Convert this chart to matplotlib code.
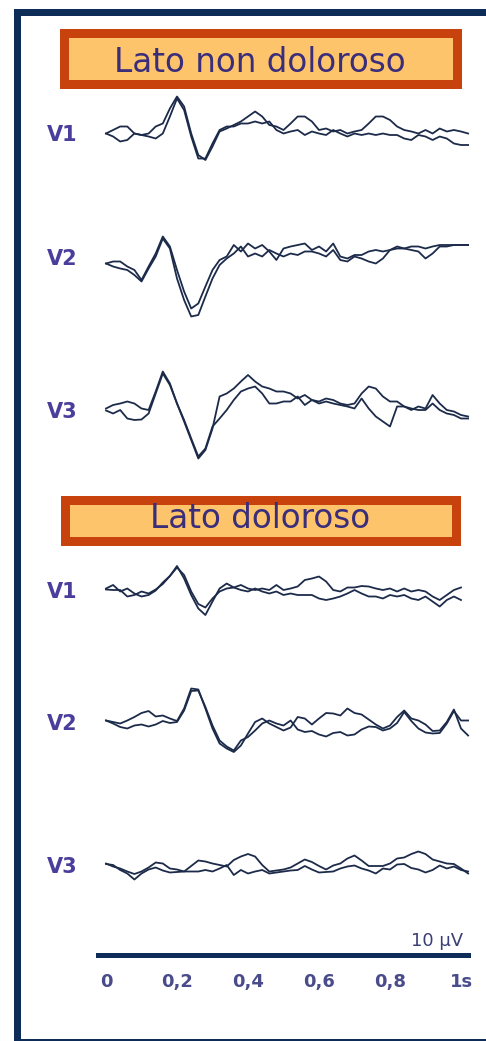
import numpy as np
import matplotlib.pyplot as plt
from matplotlib.patches import Rectangle
from matplotlib.transforms import blended_transform_factory

# sampling grid of the read-off traces (s)
t = np.round(np.arange(0, 1.021, 0.02), 2)

# amplitudes in microvolt, two superimposed recordings per channel
# --- Lato non doloroso ---
nd_v1_a = [-0.1, 0.6, 1.3, 1.3, -0.1, -0.4, -0.1, 1.3, 1.9, 4.9,
           7.3, 5.3, -0.1, -4.4, -5.4, -2.7, 0.3, 0.9, 1.6, 2.3,
           3.3, 4.3, 3.3, 1.6, 1.3, 0.6, 1.9, 3.3, 3.3, 2.3,
           0.6, 0.9, 0.3, 0.6, -0.1, 0.3, 0.6, 1.9, 3.3, 3.3,
           2.6, 1.3, 0.6, 0.3, -0.1, 0.6, -0.1, 0.9, 0.3, 0.6,
           0.3, -0.1]
nd_v1_b = [-0.1, -0.7, -1.7, -1.4, -0.1, -0.4, -0.7, -1.1, -0.1, 3.3,
           6.9, 4.6, -0.7, -5.1, -5.1, -2.1, 0.6, 1.3, 1.3, 1.9,
           1.9, 2.3, 1.9, 2.3, 0.6, -0.1, 0.3, 0.6, -0.4, 0.3,
           -0.1, -0.4, 0.6, -0.1, -0.7, -0.1, -0.4, -0.1, -0.4, -0.1,
           -0.4, -0.4, -1.1, -1.4, -0.4, -0.7, -1.4, -0.7, -1.1, -2.1,
           -2.4, -2.4]
nd_v2_a = [-1.3, -0.9, -0.9, -1.9, -2.6, -4.6, -1.9, 0.7, 4.1, 2.1,
           -2.6, -6.9, -10.3, -9.3, -5.9, -2.6, -0.6, 0.1, 2.4, 1.1,
           2.7, 1.7, 2.4, 1.1, -0.6, 1.7, 2.1, 2.4, 2.7, 1.4,
           2.1, 1.1, 2.7, 0.1, -0.3, 0.4, 0.4, 1.1, 1.4, 1.1,
           1.4, 2.1, 1.7, 2.1, 2.1, 1.7, 2.1, 2.4, 2.4, 2.4,
           2.4, 2.4]
nd_v2_b = [-1.3, -1.9, -2.3, -2.6, -3.6, -4.9, -2.3, 0.1, 3.7, 1.7,
           -4.3, -8.6, -11.9, -11.6, -7.9, -4.3, -1.6, -0.3, 0.7, 2.1,
           0.1, 0.7, 0.1, 1.4, 0.7, 0.1, 0.7, 0.4, 1.1, 1.1,
           0.7, 0.1, 1.4, -0.6, -0.9, 0.1, -0.3, -0.9, -1.3, -0.3,
           1.4, 1.7, 1.7, 1.4, 1.1, -0.3, 0.7, 2.1, 2.1, 2.4,
           2.4, 2.4]
nd_v3_a = [0.3, 1.0, 1.3, 1.7, 1.3, 0.3, 0.0, 3.7, 7.7, 5.3,
           1.3, -2.3, -6.0, -9.7, -8.0, -3.7, 2.7, 3.3, 4.3, 5.7,
           7.0, 5.7, 4.7, 4.3, 3.7, 3.7, 3.3, 2.3, 3.0, 2.0,
           1.7, 2.3, 2.0, 1.3, 1.0, 1.3, 3.3, 4.7, 4.3, 2.7,
           1.7, 1.7, 0.7, 0.0, 0.7, 0.3, 3.0, 1.3, 0.0, -0.3,
           -1.0, -1.3]
nd_v3_b = [-0.1, -0.7, 0.0, -1.7, -2.0, -1.9, -0.7, 3.3, 7.3, 5.0,
           1.3, -2.0, -5.7, -9.3, -7.7, -3.3, -1.7, 0.0, 2.0, 3.7,
           4.3, 4.7, 3.3, 1.3, 1.3, 1.7, 1.7, 2.7, 1.0, 2.0,
           1.3, 1.7, 1.3, 1.0, 0.7, 0.3, 2.3, 0.3, -1.3, -2.3,
           -3.3, 0.7, 0.7, 0.3, 0.0, 0.0, 1.3, 0.0, -0.7, -1.0,
           -1.7, -1.7]
# --- Lato doloroso ---
d_v1_a = [0.3, 1.0, -0.3, 0.3, -0.7, -1.3, -1.0, -0.1, 1.5, 2.8,
          4.8, 2.3, -1.0, -3.7, -5.0, -2.3, 0.3, 1.3, 0.5, 1.0,
          0.3, 0.0, 0.3, 0.0, 1.0, 0.0, 0.3, 0.7, 2.0, 2.3,
          2.7, 1.7, 0.0, -0.3, 0.5, 0.5, 0.8, 0.7, 0.3, 0.0,
          0.3, -0.3, 0.3, -0.3, 0.0, -0.3, -1.3, -2.0, -1.0, 0.0,
          0.5]
d_v1_b = [0.1, 0.0, 0.0, -1.3, -1.0, -0.3, -0.7, 0.1, 1.2, 2.8,
          4.5, 3.0, -0.3, -2.8, -3.5, -1.7, -0.3, 0.3, 0.5, 0.0,
          -0.3, 0.3, -0.3, -0.7, -0.3, -1.0, -0.7, -1.0, -1.0, -1.0,
          -1.7, -2.0, -1.7, -1.3, -0.7, 0.0, -0.7, -1.3, -1.3, -1.7,
          -1.0, -1.3, -1.0, -1.7, -2.0, -1.3, -2.3, -3.3, -2.0, -1.3,
          -2.0]
d_v2_a = [0.3, 0.0, -0.3, 0.3, 1.0, 1.8, 2.2, 1.1, 1.3, 0.7,
          0.2, 2.7, 6.7, 6.5, 2.7, -1.3, -4.3, -5.3, -6.0, -4.7,
          -2.3, 0.0, 0.7, -0.3, -1.0, -1.7, -1.1, 1.0, 0.7, -0.5,
          0.7, 1.8, 1.7, 1.3, 2.7, 1.8, 1.5, 0.5, -0.5, -1.3,
          -0.7, 1.0, 2.3, 0.7, 0.3, -0.5, -1.8, -1.7, 0.0, 2.5,
          -1.3, -2.7]
d_v2_b = [0.3, -0.3, -1.0, -1.3, -0.7, -0.5, -0.9, -0.5, 0.2, -0.2,
          0.0, 2.3, 6.2, 6.3, 3.0, -0.7, -3.7, -4.9, -5.7, -3.7,
          -3.0, -1.7, -0.3, 0.3, -0.3, -0.7, 0.3, -1.5, -2.0, -1.8,
          -2.5, -2.9, -2.2, -2.0, -2.7, -2.5, -1.5, -0.9, -1.0, -1.7,
          -1.3, -0.2, 2.0, 0.2, -1.3, -2.1, -2.3, -2.2, -0.3, 2.2,
          0.3, 0.3]
d_v3_a = [0.3, -0.3, -0.7, -1.3, -1.8, -1.3, -0.5, 0.5, 0.3, -0.7,
          -0.9, -1.3, -0.2, 0.9, 0.7, 0.3, 0.0, -0.3, 1.0, 1.7,
          2.2, 1.7, 0.0, -1.3, -1.1, -0.9, -0.5, 0.3, 1.1, 0.6,
          -0.2, -0.9, -0.1, 0.3, 1.3, 1.9, 0.9, -0.2, -0.2, -0.2,
          0.3, 1.3, 1.5, 2.2, 2.7, 2.2, 1.1, 0.7, 0.3, 0.2,
          -0.7, -1.7]
d_v3_b = [0.2, 0.0, -1.0, -1.7, -2.9, -1.7, -0.9, -0.5, -1.1, -1.5,
          -1.4, -1.3, -1.3, -1.3, -1.0, -1.3, -0.7, 0.0, -2.0, -1.0,
          -1.7, -1.3, -1.0, -1.7, -1.5, -1.3, -1.1, -1.0, -0.2, -0.9,
          -1.5, -1.4, -1.3, -0.7, -0.3, -0.1, -0.7, -1.1, -1.7, -0.7,
          -0.9, 0.1, 0.2, -0.6, -0.9, -1.5, -1.0, -0.1, -0.7, -0.3,
          -1.0, -1.3]

panel_titles = ["Lato non doloroso", "Lato doloroso"]
channel_names = ["V1", "V2", "V3", "V1", "V2", "V3"]
traces = [(nd_v1_a, nd_v1_b), (nd_v2_a, nd_v2_b), (nd_v3_a, nd_v3_b),
          (d_v1_a, d_v1_b), (d_v2_a, d_v2_b), (d_v3_a, d_v3_b)]
time_ticks = [0, 0.2, 0.4, 0.6, 0.8, 1.0]
time_labels = ["0", "0,2", "0,4", "0,6", "0,8", "1s"]
scale_label = "10 \u00b5V"

# layout in pixels of the 486 x 1041 picture
W, H = 486, 1041
fx = lambda px: px / W
fy = lambda py: 1 - py / H
PX = 0.72  # points per pixel at dpi 100
base_px = [133, 257, 410, 590, 722, 865]   # row baselines
uv_px = 5.0                                 # pixels per microvolt
ax_top, ax_bot = 95, 955

trace_col = "#1d2b4a"
navy = "#0e2c58"

fig = plt.figure(figsize=(W / 100, H / 100), dpi=100)
fig.patch.set_facecolor("white")

# outer frame
fig.patches.append(Rectangle((fx(16.5), fy(1041.5)), (520 - 16.5) / W, (1041.5 - 11.5) / H,
                             transform=fig.transFigure, fill=False, ec=navy, lw=7 * PX))

ax = fig.add_axes([fx(98), fy(ax_bot), (468 - 98) / W, (ax_bot - ax_top) / H])
ax.set_xlim((98 - 106) / 355, (468 - 106) / 355)
ax.set_ylim(0, (ax_bot - ax_top) / uv_px)
ax.patch.set_visible(False)

lab_tr = blended_transform_factory(fig.transFigure, ax.transData)
for name, (a, b), bp in zip(channel_names, traces, base_px):
    off = (ax_bot - bp) / uv_px
    for v in (a, b):
        ax.plot(t[:len(v)], off + np.array(v), color=trace_col, lw=1.3, clip_on=False)
    ax.text(fx(47), off, name, transform=lab_tr, ha="left", va="center_baseline",
            fontsize=15, fontweight="bold", color="#4a3e9c")

# scale bar = bottom spine
for s in ["top", "left", "right"]:
    ax.spines[s].set_visible(False)
ax.spines["bottom"].set_linewidth(5 * PX)
ax.spines["bottom"].set_color(navy)
ax.set_yticks([])
ax.set_xticks(time_ticks)
ax.set_xticklabels(time_labels, fontsize=13, fontweight="bold", color="#4a4b8a")
ax.tick_params(axis="x", length=0, pad=13)
fig.text(fx(463), fy(946), scale_label, ha="right", va="baseline", fontsize=13,
         color="#3b3f78")

# title boxes
boxes = [(59, 28, 461, 88, 72), (60, 496, 460, 545, 528)]
for title, (x0, y0, x1, y1, yb) in zip(panel_titles, boxes):
    fig.patches.append(Rectangle((fx(x0 + 4.5), fy(y1 - 4.5)), (x1 - x0 - 9) / W, (y1 - y0 - 9) / H,
                                 transform=fig.transFigure, fc="#fdc46c", ec="#c8420e",
                                 lw=9 * PX))
    fig.text(fx((x0 + x1) / 2), fy(yb), title, ha="center", va="baseline",
             fontsize=23.5, color="#3a2d7a")

fig.savefig("out.png", dpi=100)
